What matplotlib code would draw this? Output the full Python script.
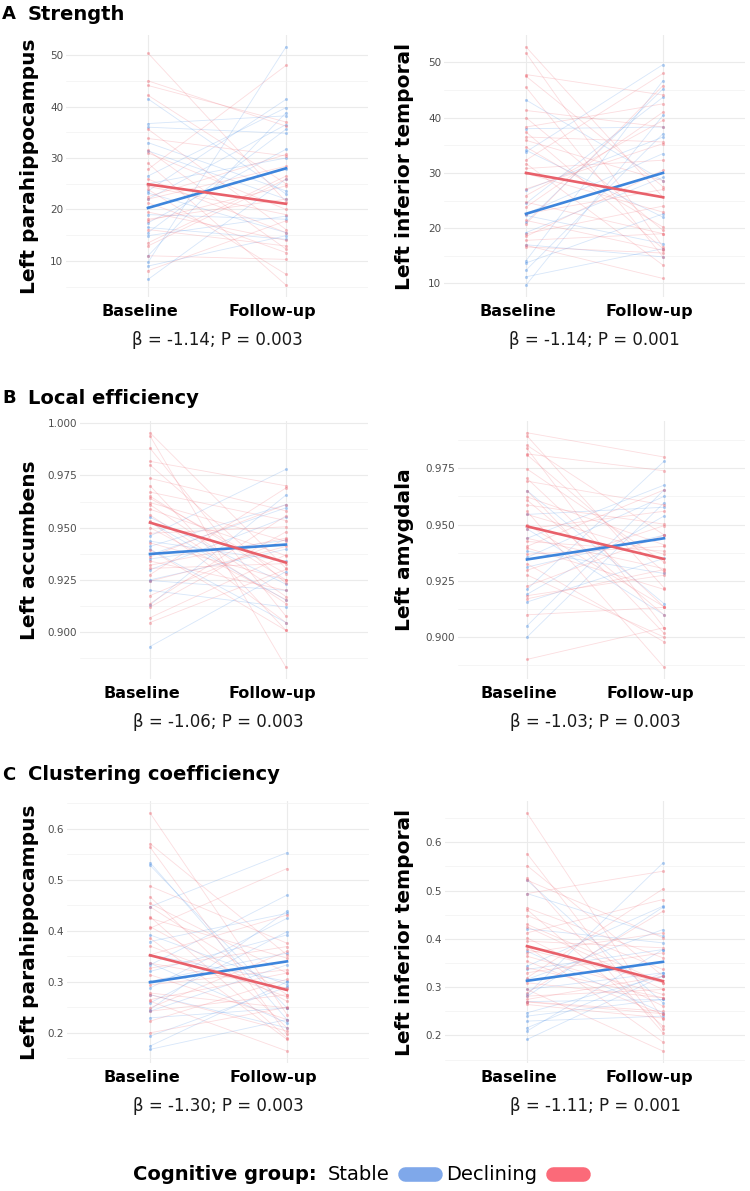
import matplotlib
matplotlib.use("Agg")
import matplotlib.pyplot as plt
from matplotlib.lines import Line2D
from matplotlib.ticker import MultipleLocator, FormatStrFormatter
import numpy as np

plt.rcParams["font.family"] = ["DejaVu Sans"]

W, H = 750, 1191
TIMEPOINTS = ["Baseline", "Follow-up"]

# ---- A: Strength, left parahippocampus
a1_stable_base = [41.5, 36.7, 36.0, 33.0, 31.4, 26.5, 23.6, 23.2, 22.0, 20.4,
                  17.4, 16.5, 15.5, 14.9, 11.0, 9.7, 9.0, 6.4, 19.0, 25.0]
a1_stable_follow = [23.0, 38.2, 34.8, 23.6, 22.0, 39.8, 41.4, 15.5, 36.5, 27.8,
                    31.7, 14.2, 35.6, 18.7, 38.8, 51.6, 14.9, 25.9, 18.1, 30.0]
a1_decl_base = [50.4, 45.0, 44.1, 42.2, 35.6, 33.8, 31.5, 31.0, 27.8, 25.9, 23.9, 22.5,
                22.0, 21.3, 18.1, 17.8, 16.1, 12.9, 11.0, 8.1, 29.0, 24.5, 13.5, 19.5]
a1_decl_follow = [21.5, 36.2, 37.0, 25.0, 16.1, 30.4, 12.3, 20.0, 48.0, 15.5, 7.4, 30.7,
                  28.4, 11.6, 22.0, 24.6, 12.9, 25.9, 10.3, 17.8, 5.3, 19.0, 26.5, 14.0]
a1_fit_stable = [20.3, 28.0]
a1_fit_decl = [24.9, 21.1]

# ---- A: Strength, left inferior temporal
a2_stable_base = [43.2, 38.0, 34.1, 33.8, 26.9, 22.6, 22.3, 21.1, 19.2, 14.1, 13.7,
                  12.4, 11.2, 9.7, 17.0, 24.5]
a2_stable_follow = [28.6, 38.3, 22.0, 49.6, 36.5, 33.5, 17.2, 45.2, 29.2, 46.7, 22.6,
                    37.1, 16.3, 40.4, 14.8, 43.7]
a2_decl_base = [52.8, 51.7, 47.8, 47.5, 45.5, 41.3, 40.0, 38.3, 37.4, 36.5, 35.9, 34.7,
                32.3, 31.7, 30.8, 29.9, 27.1, 25.9, 24.7, 23.8, 22.6, 21.4, 20.8, 19.0,
                17.8, 16.9, 16.6, 18.5]
a2_decl_follow = [25.6, 16.6, 44.1, 27.5, 14.8, 38.3, 19.6, 42.5, 16.3, 35.6, 28.6, 20.2,
                  48.0, 13.3, 32.3, 22.9, 35.3, 39.5, 19.0, 41.0, 27.0, 16.0, 45.8, 24.0,
                  19.0, 10.9, 15.5, 30.5]
a2_fit_stable = [22.6, 30.0]
a2_fit_decl = [30.0, 25.6]

# ---- B: Local efficiency, left accumbens
b1_stable_base = [0.955, 0.9527, 0.946, 0.9435, 0.941, 0.9397, 0.937, 0.935, 0.9298,
                  0.9247, 0.9250, 0.920, 0.913, 0.8931]
b1_stable_follow = [0.9229, 0.9153, 0.9779, 0.934, 0.961, 0.9046, 0.9595, 0.944, 0.955,
                    0.920, 0.9397, 0.912, 0.9656, 0.929]
b1_decl_base = [0.9954, 0.9939, 0.988, 0.9817, 0.980, 0.9736, 0.970, 0.967, 0.964, 0.962,
                0.961, 0.9588, 0.956, 0.953, 0.9473, 0.9427, 0.936, 0.934, 0.932, 0.9305,
                0.9275, 0.9244, 0.9137, 0.912, 0.9069, 0.9046, 0.965, 0.950, 0.9395, 0.9175]
b1_decl_follow = [0.9305, 0.8832, 0.9076, 0.970, 0.9234, 0.958, 0.9008, 0.9534, 0.928,
                  0.9435, 0.917, 0.9366, 0.9137, 0.9046, 0.9504, 0.925, 0.961, 0.920,
                  0.945, 0.9328, 0.969, 0.941, 0.9557, 0.948, 0.937, 0.930, 0.925, 0.9155,
                  0.9008, 0.9445]
b1_fit_stable = [0.9374, 0.9419]
b1_fit_decl = [0.9524, 0.9333]

# ---- B: Local efficiency, left amygdala
b2_stable_base = [0.9651, 0.9545, 0.9481, 0.9439, 0.9382, 0.9354, 0.9311, 0.9212,
                  0.919, 0.9156, 0.905, 0.900]
b2_stable_follow = [0.9149, 0.9577, 0.9099, 0.9675, 0.9283, 0.9625, 0.9453, 0.9781,
                    0.9538, 0.935, 0.9654, 0.9597]
b2_decl_base = [0.9908, 0.9894, 0.9852, 0.9838, 0.9814, 0.981, 0.9747, 0.9705, 0.9693,
                0.9651, 0.9623, 0.9609, 0.9587, 0.9559, 0.9545, 0.9481, 0.9439, 0.9403,
                0.9396, 0.9368, 0.9326, 0.9297, 0.9276, 0.9226, 0.9184, 0.917, 0.9099,
                0.8901, 0.950, 0.9425]
b2_decl_follow = [0.980, 0.9219, 0.9454, 0.9042, 0.9739, 0.929, 0.9333, 0.9134, 0.9587,
                  0.9017, 0.941, 0.9099, 0.9502, 0.8866, 0.9368, 0.9559, 0.9304, 0.9654,
                  0.9212, 0.9403, 0.8979, 0.9495, 0.900, 0.9453, 0.9275, 0.930, 0.9132,
                  0.9042, 0.9135, 0.9382]
b2_fit_stable = [0.9345, 0.9439]
b2_fit_decl = [0.9492, 0.9347]

# ---- C: Clustering coefficiency, left parahippocampus
c1_stable_base = [0.5337, 0.5285, 0.4472, 0.3919, 0.3789, 0.3528, 0.3366, 0.333, 0.3203,
                  0.3008, 0.2878, 0.2748, 0.2585, 0.2455, 0.2423, 0.2293, 0.1935, 0.174,
                  0.1675]
c1_stable_follow = [0.2261, 0.2488, 0.5532, 0.2944, 0.4341, 0.3008, 0.2195, 0.4699,
                    0.3919, 0.3561, 0.4244, 0.2098, 0.3984, 0.4387, 0.3334, 0.2488, 0.290,
                    0.300, 0.2261]
c1_decl_base = [0.631, 0.571, 0.564, 0.4875, 0.4667, 0.4537, 0.4472, 0.4276, 0.4244,
                0.4081, 0.405, 0.3854, 0.3528, 0.3366, 0.3268, 0.3138, 0.2941, 0.278,
                0.275, 0.265, 0.262, 0.2488, 0.2423, 0.2228, 0.200, 0.370]
c1_decl_follow = [0.2358, 0.3528, 0.1968, 0.3756, 0.2098, 0.3171, 0.2748, 0.1903, 0.3463,
                  0.2618, 0.522, 0.187, 0.4309, 0.2878, 0.3691, 0.2261, 0.3236, 0.2488,
                  0.2033, 0.3171, 0.1642, 0.360, 0.2748, 0.305, 0.250, 0.270]
c1_fit_stable = [0.299, 0.340]
c1_fit_decl = [0.352, 0.284]

# ---- C: Clustering coefficiency, left inferior temporal
c2_stable_base = [0.5214, 0.4938, 0.4207, 0.3745, 0.3434, 0.3366, 0.3159, 0.2952, 0.2848,
                  0.281, 0.2469, 0.240, 0.2297, 0.2159, 0.209, 0.1917, 0.270]
c2_stable_follow = [0.2676, 0.4055, 0.3917, 0.2469, 0.4676, 0.3779, 0.4193, 0.3297,
                    0.5572, 0.4655, 0.3228, 0.2745, 0.240, 0.3297, 0.3779, 0.3228, 0.2745]
c2_decl_base = [0.6607, 0.5766, 0.5517, 0.5262, 0.5214, 0.4938, 0.4641, 0.4607, 0.4483,
                0.4248, 0.4124, 0.402, 0.3952, 0.3848, 0.378, 0.371, 0.3641, 0.3538,
                0.3297, 0.3193, 0.309, 0.2952, 0.2883, 0.2814, 0.2745, 0.2693, 0.2641,
                0.340, 0.430, 0.270]
c2_decl_follow = [0.2331, 0.2124, 0.3228, 0.2055, 0.4021, 0.540, 0.3607, 0.2193, 0.3366,
                  0.2952, 0.4814, 0.2607, 0.3814, 0.1862, 0.309, 0.4124, 0.2848, 0.2434,
                  0.371, 0.5034, 0.2779, 0.1676, 0.4572, 0.2952, 0.3228, 0.245, 0.236,
                  0.2779, 0.309, 0.250]
c2_fit_stable = [0.3131, 0.3524]
c2_fit_decl = [0.3848, 0.3124]

STABLE = "#4A8FE7"
DECL = "#F0646F"
STABLE_KEY = "#7FA8EA"
DECL_KEY = "#FB6A79"
LABEL_SHIFT = [-8, -14]  # px, tick labels sit a bit left of their gridlines


def frac(x, y):
    return x / W, 1 - y / H


def panel(box, xpos, region, sb, sf, db, df, fs, fd, stats, step, fmt):
    # box = (left, top, right, bottom) in pixels; xpos = pixel x of Baseline / Follow-up
    left, top, right, bottom = box
    ax = fig.add_axes([left / W, 1 - bottom / H, (right - left) / W, (bottom - top) / H])
    for base, follow, c in [(sb, sf, STABLE), (db, df, DECL)]:
        for b, f in zip(base, follow):
            ax.plot([1, 2], [b, f], color=c, alpha=0.22, lw=0.6, zorder=2)
        ax.scatter(np.ones(len(base)), base, s=5, color=c, alpha=0.4, lw=0, zorder=3)
        ax.scatter(np.full(len(follow), 2), follow, s=5, color=c, alpha=0.4, lw=0, zorder=3)
    ax.plot([1, 2], fs, color="#3D85DC", lw=1.9, zorder=5)
    ax.plot([1, 2], fd, color="#E8606A", lw=1.9, zorder=5)

    vals = np.concatenate([sb, sf, db, df])
    lo, hi = vals.min(), vals.max()
    pad = 0.05 * (hi - lo)
    ax.set_ylim(lo - pad, hi + pad)
    unit = xpos[1] - xpos[0]
    x0, x1 = 1 - (xpos[0] - left) / unit, 2 + (right - xpos[1]) / unit
    ax.set_xlim(x0, x1)

    # major x ticks give the gridlines, minor ones carry the (shifted) labels
    ax.set_xticks([1, 2], ["", ""])
    ax.set_xticks([1 + LABEL_SHIFT[0] / unit, 2 + LABEL_SHIFT[1] / unit], TIMEPOINTS,
                  minor=True, fontsize=11.5, fontweight="bold", color="black")
    ax.yaxis.set_major_locator(MultipleLocator(step))
    ax.yaxis.set_minor_locator(MultipleLocator(step / 2))
    ax.yaxis.set_major_formatter(FormatStrFormatter(fmt))
    ax.tick_params(axis="y", which="both", length=0, labelsize=7.5, labelcolor="#4D4D4D", pad=2)
    ax.tick_params(axis="x", which="both", length=0, pad=5)
    ax.grid(which="major", color="#EBEBEB", lw=0.8)
    ax.grid(which="minor", axis="y", color="#F2F2F2", lw=0.5)
    ax.set_axisbelow(True)
    for s in ax.spines.values():
        s.set_visible(False)

    ax.set_ylabel(region, fontsize=14.5, fontweight="bold")
    label_x = 39 if left < 200 else 414
    ax.yaxis.set_label_coords((label_x - left) / (right - left), 0.5)
    ax.set_xlabel(stats, fontsize=12, labelpad=9, color="#1A1A1A")
    ax.xaxis.label.set_x((1.5 - x0) / (x1 - x0))
    return ax


fig = plt.figure(figsize=(W / 100, H / 100), dpi=100)

panel((66, 35, 368, 297), (148, 286), "Left parahippocampus",
      a1_stable_base, a1_stable_follow, a1_decl_base, a1_decl_follow,
      a1_fit_stable, a1_fit_decl, "β = -1.14; P = 0.003", 10, "%d")
panel((444, 35, 745, 297), (526, 663), "Left inferior temporal",
      a2_stable_base, a2_stable_follow, a2_decl_base, a2_decl_follow,
      a2_fit_stable, a2_fit_decl, "β = -1.14; P = 0.001", 10, "%d")
panel((80, 421, 368, 679), (150, 286), "Left accumbens",
      b1_stable_base, b1_stable_follow, b1_decl_base, b1_decl_follow,
      b1_fit_stable, b1_fit_decl, "β = -1.06; P = 0.003", 0.025, "%.3f")
panel((458, 421, 745, 679), (527, 664), "Left amygdala",
      b2_stable_base, b2_stable_follow, b2_decl_base, b2_decl_follow,
      b2_fit_stable, b2_fit_decl, "β = -1.03; P = 0.003", 0.025, "%.3f")
panel((67, 801, 369, 1063), (150, 287), "Left parahippocampus",
      c1_stable_base, c1_stable_follow, c1_decl_base, c1_decl_follow,
      c1_fit_stable, c1_fit_decl, "β = -1.30; P = 0.003", 0.1, "%.1f")
panel((445, 801, 745, 1063), (527, 663), "Left inferior temporal",
      c2_stable_base, c2_stable_follow, c2_decl_base, c2_decl_follow,
      c2_fit_stable, c2_fit_decl, "β = -1.11; P = 0.001", 0.1, "%.1f")

# section titles
for tag, title, y in [("A", "Strength", 14), ("B", "Local efficiency", 398),
                      ("C", "Clustering coefficiency", 775)]:
    fig.text(*frac(2, y), tag, fontsize=13, fontweight="bold", va="center", ha="left")
    fig.text(*frac(28, y), title, fontsize=14, fontweight="bold", va="center", ha="left")

# legend
ly = 1174
fig.text(*frac(133, ly), "Cognitive group:", fontsize=14, fontweight="bold", va="center")
fig.text(*frac(328, ly), "Stable", fontsize=14, va="center")
fig.text(*frac(446, ly), "Declining", fontsize=14, va="center")
for x0, x1, c in [(398, 442, STABLE_KEY), (546, 590, DECL_KEY)]:
    fig.add_artist(Line2D([(x0 + 7) / W, (x1 - 7) / W], [1 - ly / H] * 2, lw=10.5,
                          color=c, solid_capstyle="round", transform=fig.transFigure))

fig.savefig("out.png", dpi=100)
